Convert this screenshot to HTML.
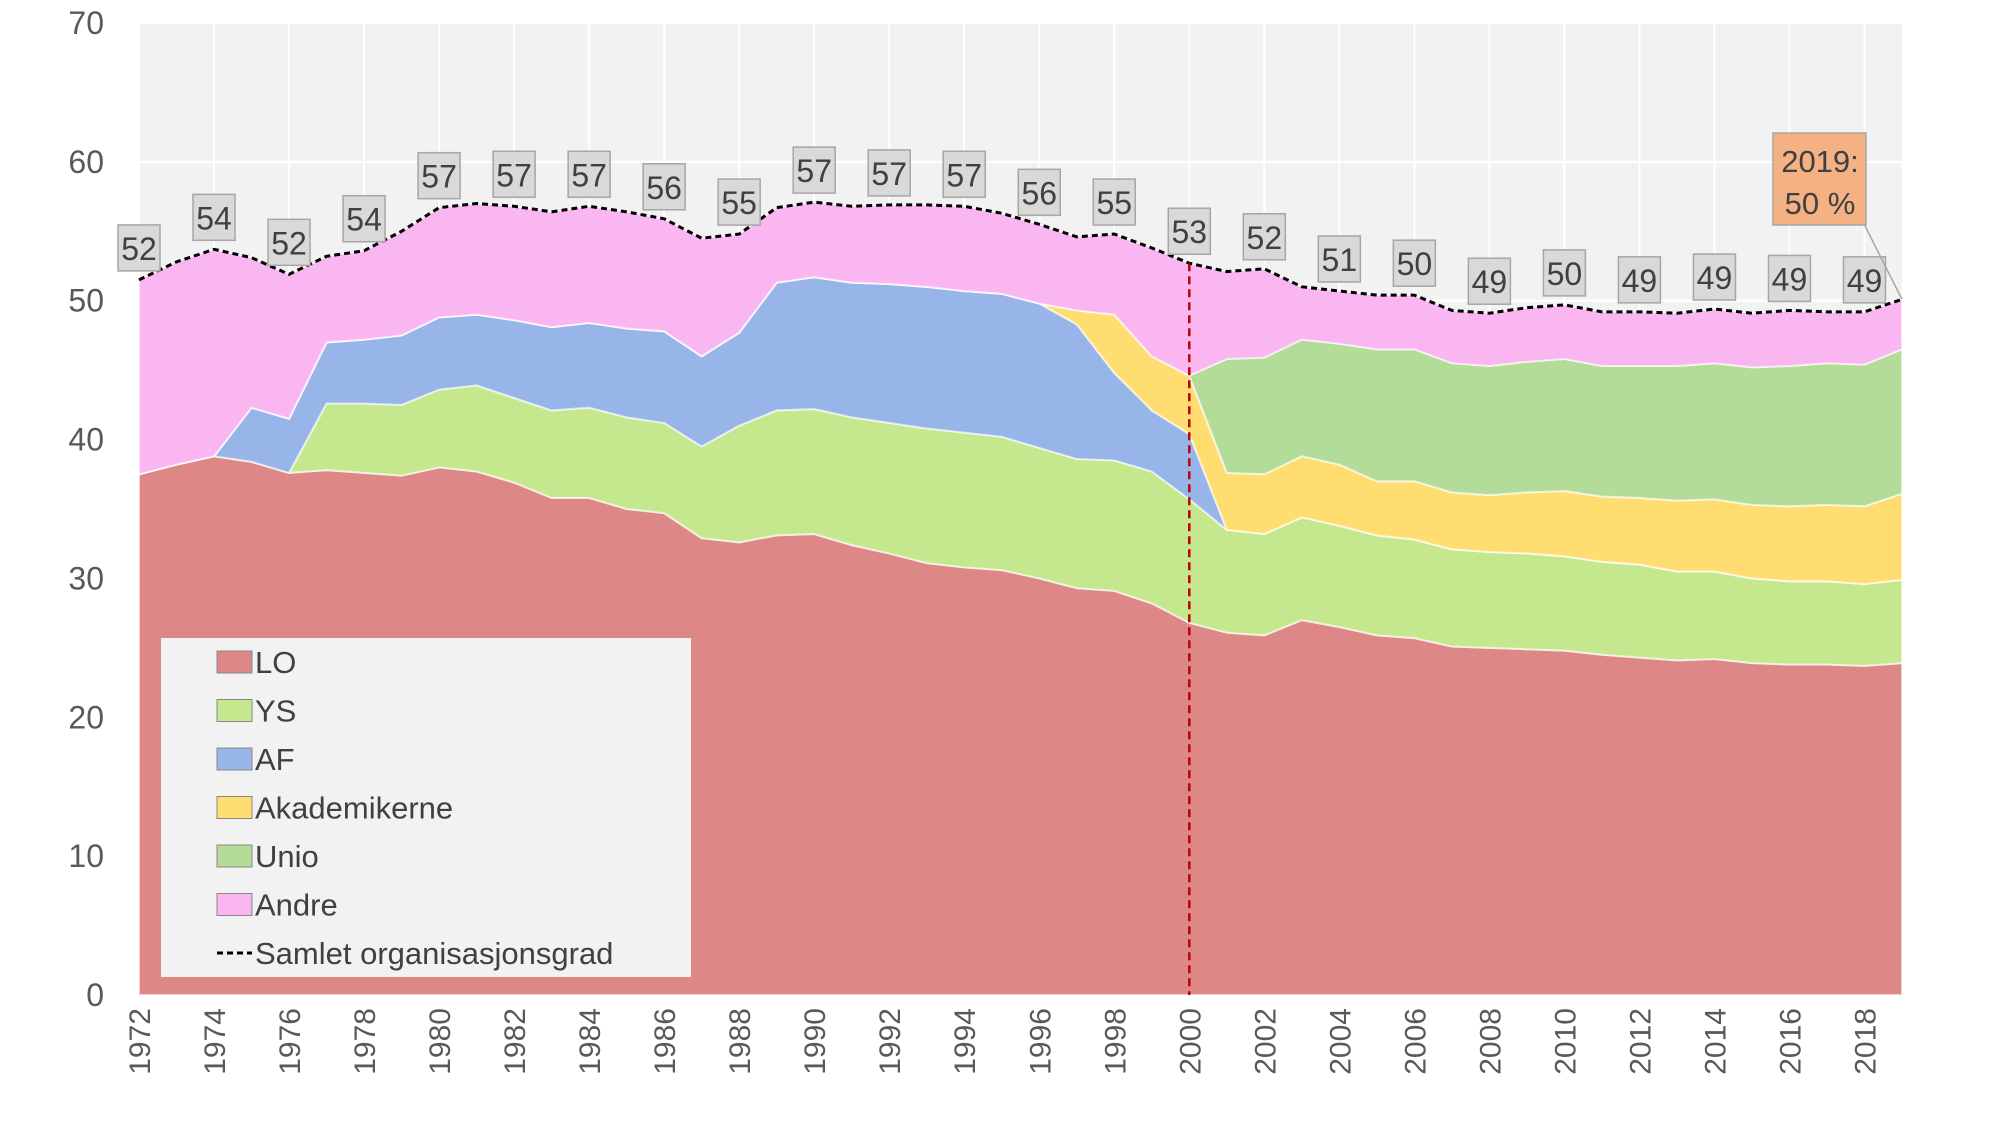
<!DOCTYPE html>
<html><head><meta charset="utf-8"><style>
body{margin:0;background:#fff;}
svg{display:block;font-family:"Liberation Sans",sans-serif;}
</style></head><body>
<svg id="c" width="2000" height="1125" xmlns="http://www.w3.org/2000/svg"></svg>
<script>
const L=139,R=1902,T=23,B=995;
const X=y=>L+(y-1972)*(R-L)/47, Y=v=>B-v*(B-T)/70;
const D=[
[1972,37.5,37.5,37.5,37.5,37.5,51.5],[1973,38.2,38.2,38.2,38.2,38.2,52.8],[1974,38.8,38.8,38.8,38.8,38.8,53.7],
[1975,38.4,38.4,42.3,42.3,42.3,53.1],[1976,37.6,37.6,41.5,41.5,41.5,51.9],[1977,37.8,42.6,47.0,47.0,47.0,53.2],
[1978,37.6,42.6,47.2,47.2,47.2,53.6],[1979,37.4,42.5,47.5,47.5,47.5,55.0],[1980,38.0,43.6,48.8,48.8,48.8,56.7],
[1981,37.7,43.9,49.0,49.0,49.0,57.0],[1982,36.9,43.0,48.6,48.6,48.6,56.8],[1983,35.8,42.1,48.1,48.1,48.1,56.4],
[1984,35.8,42.3,48.4,48.4,48.4,56.8],[1985,35.0,41.6,48.0,48.0,48.0,56.4],[1986,34.7,41.2,47.8,47.8,47.8,55.9],
[1987,32.9,39.5,46.0,46.0,46.0,54.5],[1988,32.6,41.0,47.7,47.7,47.7,54.8],[1989,33.1,42.1,51.3,51.3,51.3,56.7],
[1990,33.2,42.2,51.7,51.7,51.7,57.1],[1991,32.4,41.6,51.3,51.3,51.3,56.8],[1992,31.8,41.2,51.2,51.2,51.2,56.9],
[1993,31.1,40.8,51.0,51.0,51.0,56.9],[1994,30.8,40.5,50.7,50.7,50.7,56.8],[1995,30.6,40.2,50.5,50.5,50.5,56.3],
[1996,30.0,39.4,49.8,49.8,49.8,55.5],[1997,29.3,38.6,48.3,49.3,49.3,54.6],[1998,29.1,38.5,44.8,49.0,49.0,54.8],
[1999,28.2,37.7,42.1,46.0,46.0,53.8],[2000,26.8,35.7,40.4,44.6,44.6,52.7],[2001,26.1,33.5,33.5,37.6,45.8,52.1],
[2002,25.9,33.2,33.2,37.5,45.9,52.3],[2003,27.0,34.4,34.4,38.8,47.2,51.0],[2004,26.5,33.8,33.8,38.2,46.9,50.7],
[2005,25.9,33.1,33.1,37.0,46.5,50.4],[2006,25.7,32.8,32.8,37.0,46.5,50.4],[2007,25.1,32.1,32.1,36.2,45.5,49.3],
[2008,25.0,31.9,31.9,36.0,45.3,49.1],[2009,24.9,31.8,31.8,36.2,45.6,49.5],[2010,24.8,31.6,31.6,36.3,45.8,49.7],
[2011,24.5,31.2,31.2,35.9,45.3,49.2],[2012,24.3,31.0,31.0,35.8,45.3,49.2],[2013,24.1,30.5,30.5,35.6,45.3,49.1],
[2014,24.2,30.5,30.5,35.7,45.5,49.4],[2015,23.9,30.0,30.0,35.3,45.2,49.1],[2016,23.8,29.8,29.8,35.2,45.3,49.3],
[2017,23.8,29.8,29.8,35.3,45.5,49.2],[2018,23.7,29.6,29.6,35.2,45.4,49.2],[2019,23.9,29.9,29.9,36.1,46.5,50.1]];
let s='<rect x="'+L+'" y="'+T+'" width="'+(R-L)+'" height="'+(B-T)+'" fill="#f2f2f2"/>';
for(let v=10;v<=70;v+=10)s+=`<line x1="${L}" x2="${R}" y1="${Y(v)}" y2="${Y(v)}" stroke="#fff" stroke-width="2"/>`;
for(let y=1972;y<=2019;y+=2)s+=`<line x1="${X(y)}" x2="${X(y)}" y1="${T}" y2="${B}" stroke="#fff" stroke-width="2"/>`;
const cols=['#de8787','#c5e88f','#97b5e8','#ffdd70','#b3dc98','#f9b6f0'];
for(let k=1;k<=6;k++){
 let top=D.map(r=>X(r[0])+','+Y(r[k])).join(' L');
 let bot=k==1?(X(2019)+','+B+' L'+X(1972)+','+B):D.slice().reverse().map(r=>X(r[0])+','+Y(r[k-1])).join(' L');
 s+=`<path d="M${top} L${bot} Z" fill="${cols[k-1]}" stroke="rgba(255,255,255,0.6)" stroke-width="2"/>`;
}
s+=`<polyline points="${D.map(r=>X(r[0])+','+Y(r[6])).join(' ')}" fill="none" stroke="#000" stroke-width="3" stroke-dasharray="6,4"/>`;
s+=`<line x1="${X(2000)}" x2="${X(2000)}" y1="${Y(52.7)}" y2="${B}" stroke="#c00000" stroke-width="2.5" stroke-dasharray="8,5"/>`;
for(let v=0;v<=70;v+=10)s+=`<text x="104" y="${Y(v)+11}" text-anchor="end" font-size="32" fill="#595959">${v}</text>`;
for(let y=1972;y<=2018;y+=2)s+=`<text transform="translate(${X(y)+11},${B+13}) rotate(-90)" text-anchor="end" font-size="30" fill="#595959">${y}</text>`;
for(let y=1972;y<=2018;y+=2){const r=D[y-1972];const v=Math.round(r[6]);const cx=X(y),by=Y(r[6])-9;
 s+=`<rect x="${cx-21}" y="${by-46}" width="42" height="46" fill="#d9d9d9" stroke="#a6a6a6" stroke-width="1.5"/><text x="${cx}" y="${by-11}" text-anchor="middle" font-size="32" fill="#404040">${v}</text>`;}
s+=`<line x1="1856" y1="208" x2="${X(2019)}" y2="${Y(50.1)}" stroke="#a6a6a6" stroke-width="1.5"/>`;
s+=`<rect x="1773" y="133" width="93" height="92" fill="#f4b183" stroke="#a6a6a6" stroke-width="1.5"/><text x="1820" y="172" text-anchor="middle" font-size="31" fill="#404040">2019:</text><text x="1820" y="214" text-anchor="middle" font-size="31" fill="#404040">50 %</text>`;
s+=`<rect x="161" y="638" width="530" height="339" fill="#f2f2f2"/>`;
const names=['LO','YS','AF','Akademikerne','Unio','Andre'];
names.forEach((n,i)=>{const y=662+48.5*i;s+=`<rect x="217" y="${y-11}" width="35" height="22" fill="${cols[i]}" stroke="#888" stroke-width="1"/><text x="255" y="${y+11}" font-size="31" fill="#404040">${n}</text>`;});
s+=`<line x1="217" x2="252" y1="953" y2="953" stroke="#000" stroke-width="3" stroke-dasharray="6,4"/><text x="255" y="964" font-size="31" fill="#404040">Samlet organisasjonsgrad</text>`;
document.getElementById('c').innerHTML=s;
</script>
</body></html>
